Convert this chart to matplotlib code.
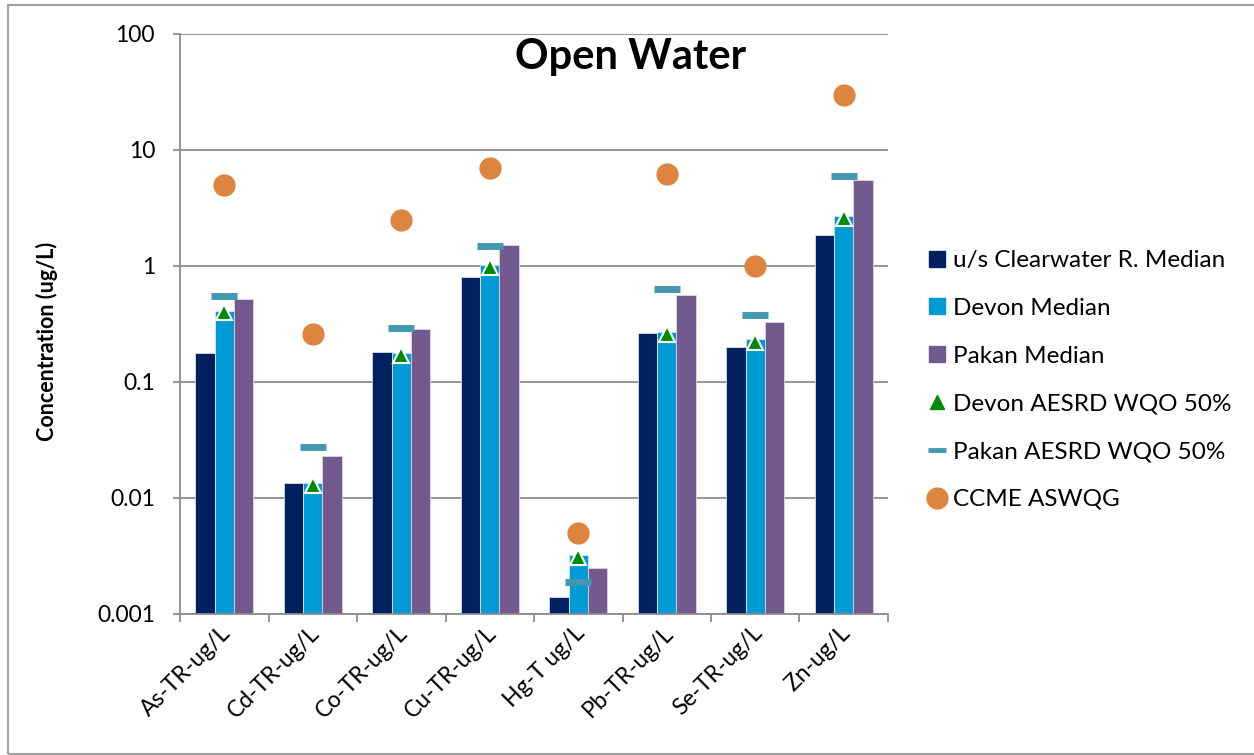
import matplotlib
matplotlib.use("Agg")
import matplotlib.pyplot as plt
import matplotlib.ticker as mticker
from matplotlib.patches import Rectangle
from matplotlib.lines import Line2D
from matplotlib.transforms import ScaledTranslation
import numpy as np

plt.rcParams['font.family'] = ['Lato', 'DejaVu Sans']

# Open water metal concentrations (ug/L)
categories = ['As-TR-ug/L', 'Cd-TR-ug/L', 'Co-TR-ug/L', 'Cu-TR-ug/L',
              'Hg-T ug/L', 'Pb-TR-ug/L', 'Se-TR-ug/L', 'Zn-ug/L']
us_clearwater = [0.177, 0.0135, 0.18, 0.81, 0.0014, 0.266, 0.202, 1.84]
devon_median = [0.41, 0.0134, 0.177, 1.01, 0.0032, 0.268, 0.233, 2.70]
pakan_median = [0.52, 0.0232, 0.284, 1.51, 0.0025, 0.562, 0.329, 5.48]
devon_wqo = [0.40, 0.013, 0.17, 0.98, 0.0031, 0.26, 0.223, 2.6]
pakan_wqo = [0.55, 0.0274, 0.29, 1.5, 0.0019, 0.637, 0.38, 6.0]
ccme = [5, 0.26, 2.5, 7, 0.005, 6.2, 1, 30]

c_us = '#002060'
c_devon = '#009BD4'
c_pakan = '#725A8E'
c_tri = '#008A00'
c_dash = '#4498B0'
c_circ = '#DD843F'
grid_c = '#8C8C8C'

fig = plt.figure(figsize=(12.54, 7.55), dpi=100)
ax = fig.add_axes([180 / 1254, 1 - 614 / 755, 708 / 1254, 580 / 755])

x = np.arange(len(categories))
w = 0.22
ax.set_yscale('log')
ax.bar(x - w, us_clearwater, w, color=c_us, edgecolor='#d8dde8', linewidth=0.6, zorder=2)
ax.bar(x, devon_median, w, color=c_devon, edgecolor='#d8e8f0', linewidth=0.6, zorder=2)
ax.bar(x + w, pakan_median, w, color=c_pakan, edgecolor='#dcd6e4', linewidth=0.6, zorder=2)

ax.plot(x, pakan_wqo, linestyle='none', marker='_', markersize=19,
        markeredgewidth=5, color=c_dash, zorder=4)
ax.plot(x, devon_wqo, linestyle='none', marker='^', markersize=12,
        markerfacecolor=c_tri, markeredgecolor='white', markeredgewidth=1.5, zorder=5)
ax.plot(x, ccme, linestyle='none', marker='o', markersize=15,
        markerfacecolor=c_circ, markeredgecolor=c_circ, zorder=5)

ax.set_xlim(-0.5, len(categories) - 0.5)
ax.set_ylim(0.001, 100)
ax.yaxis.set_major_locator(mticker.LogLocator(base=10, numticks=10))
ax.yaxis.set_minor_locator(mticker.NullLocator())
ax.yaxis.set_major_formatter(mticker.FuncFormatter(lambda v, p: '{:g}'.format(v)))
ax.grid(axis='y', color=grid_c, linewidth=1.3)
ax.set_axisbelow(True)

for s in ['top', 'right']:
    ax.spines[s].set_visible(False)
for s in ['left', 'bottom']:
    ax.spines[s].set_color(grid_c)
    ax.spines[s].set_linewidth(1.3)

ax.tick_params(axis='y', length=5, width=1.3, color=grid_c, pad=13, labelsize=16.5)
ax.set_xticks(x)
ax.set_xticks(np.arange(-0.5, len(categories)), minor=True)
ax.tick_params(axis='x', which='major', length=0, pad=6, labelsize=16.5)
ax.tick_params(axis='x', which='minor', length=6, width=1.3, color=grid_c)
ax.set_xticklabels(categories, rotation=45, ha='right', va='top',
                   rotation_mode='anchor')
shift = ScaledTranslation(-3 / 72, 0, fig.dpi_scale_trans)
for lbl in ax.get_xticklabels():
    lbl.set_transform(lbl.get_transform() + shift)

ax.set_ylabel('Concentration (ug/L)', fontsize=15.5, fontweight='bold')
ax.yaxis.set_label_coords(-0.172, 0.47)
ax.text(0.637, 0.96, 'Open Water', transform=ax.transAxes, ha='center', va='center',
        fontsize=30, fontweight='bold')

legend_labels = ['u/s Clearwater R. Median', 'Devon Median', 'Pakan Median',
                 'Devon AESRD WQO 50%', 'Pakan AESRD WQO 50%', 'CCME ASWQG']
leg_handles = [
    Rectangle((0, 0), 1, 1, color=c_us),
    Rectangle((0, 0), 1, 1, color=c_devon),
    Rectangle((0, 0), 1, 1, color=c_pakan),
    Line2D([], [], linestyle='none', marker='^', markersize=10, color=c_tri),
    Line2D([], [], linestyle='none', marker='_', markersize=13,
           markeredgewidth=3.5, color=c_dash),
    Line2D([], [], linestyle='none', marker='o', markersize=15, color=c_circ),
]
fig.legend(leg_handles, legend_labels, loc='center left',
           bbox_to_anchor=(907 / 1254, 1 - 380 / 755), frameon=False,
           fontsize=17.5, handlelength=0.65, handleheight=0.65, handletextpad=0.35,
           labelspacing=1.1)

# outer chart frame
fig.patches.append(Rectangle((8 / 1254, 1 / 755), 1.05, 1 - 6 / 755,
                             transform=fig.transFigure, fill=False,
                             edgecolor='#A0A0A0', linewidth=1.5))

fig.savefig('out.png', dpi=100)
